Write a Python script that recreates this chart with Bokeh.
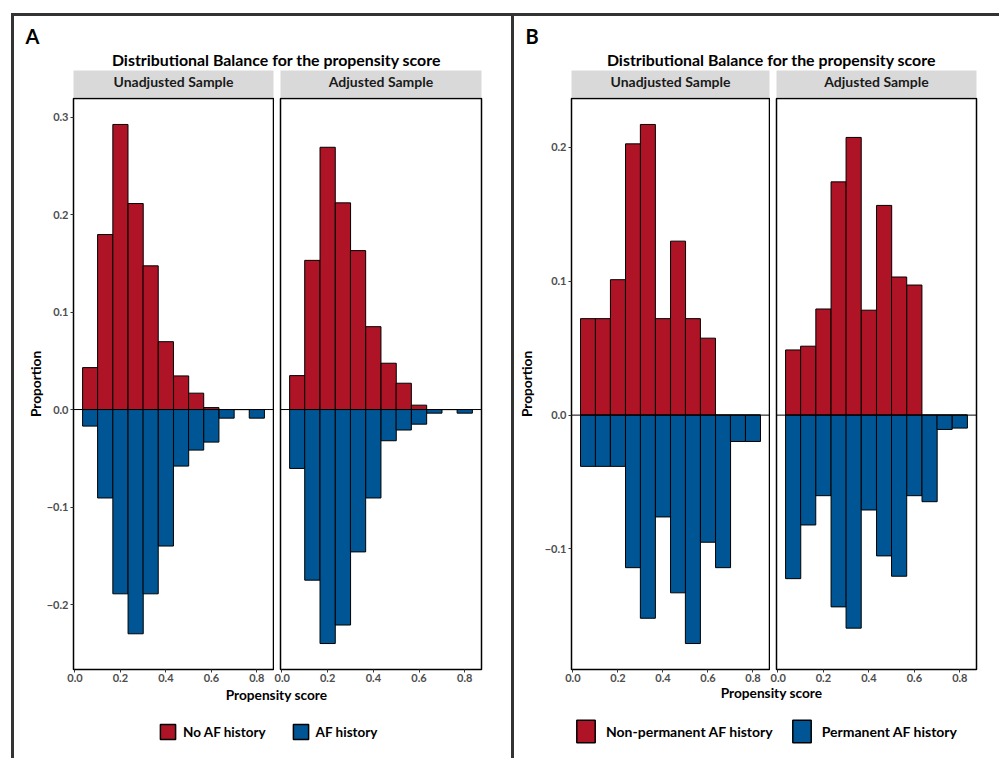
from bokeh.plotting import figure
from bokeh.layouts import row, column
from bokeh.models import Range1d, Span, FixedTicker, Legend, LegendItem, Spacer
from bokeh.core.properties import value
from bokeh.embed import file_html
from bokeh.resources import INLINE

# ---------------- data ----------------
bin_centers = [0.067, 0.133, 0.200, 0.267, 0.333, 0.400, 0.467, 0.533, 0.600, 0.667, 0.733, 0.800]
bin_width = 0.0667

# Panel A : No AF history (up) / AF history (down)
a_unadj_noaf = [0.043, 0.1795, 0.2924, 0.2113, 0.1474, 0.0696, 0.0345, 0.0168, 0.0020, 0.0, 0.0, 0.0]
a_unadj_af = [-0.017, -0.0907, -0.189, -0.230, -0.189, -0.140, -0.058, -0.0416, -0.0334, -0.0088, 0.0, -0.0088]
a_adj_noaf = [0.0348, 0.153, 0.269, 0.212, 0.163, 0.085, 0.0475, 0.027, 0.0045, 0.0, 0.0, 0.0]
a_adj_af = [-0.0604, -0.175, -0.240, -0.221, -0.146, -0.0907, -0.032, -0.021, -0.015, -0.0037, 0.0, -0.0037]

# Panel B : Non-permanent AF history (up) / Permanent AF history (down)
b_unadj_nonperm = [0.0721, 0.0721, 0.1012, 0.2027, 0.2172, 0.0721, 0.130, 0.0721, 0.0575, 0.0, 0.0, 0.0]
b_unadj_perm = [-0.0383, -0.0383, -0.0383, -0.114, -0.1518, -0.0761, -0.1328, -0.1707, -0.095, -0.114, -0.0197, -0.0197]
b_adj_nonperm = [0.0487, 0.0515, 0.0793, 0.1743, 0.2075, 0.0784, 0.1567, 0.1032, 0.0972, 0.0, 0.0, 0.0]
b_adj_perm = [-0.1222, -0.0821, -0.0602, -0.1433, -0.1592, -0.0709, -0.1052, -0.1204, -0.0602, -0.0647, -0.0107, -0.0097]

facet_names = ["Unadjusted Sample", "Adjusted Sample"]
a_legend_labels = ["No AF history", "AF history"]
b_legend_labels = ["Non-permanent AF history", "Permanent AF history"]
main_title = "Distributional Balance for the propensity score"
x_title = "Propensity score"
y_title = "Proportion"

x_ticks = [0.0, 0.2, 0.4, 0.6, 0.8]
x_tick_labels = ["0.0", "0.2", "0.4", "0.6", "0.8"]
a_y_ticks = [-0.2, -0.1, 0.0, 0.1, 0.2, 0.3]
a_y_tick_labels = ["\u22120.2", "\u22120.1", "0.0", "0.1", "0.2", "0.3"]
b_y_ticks = [-0.1, 0.0, 0.1, 0.2]
b_y_tick_labels = ["\u22120.1", "0.0", "0.1", "0.2"]

# ---------------- style ----------------
RED = "#AE1426"
BLUE = "#005694"
FONT = "Lato"
DARK = {"background-color": "#333333"}
STRIP_BG = "#D9D9D9"
FACET_H = 588
FOOT_H = 73


def expand(lo, hi, f=0.05):
    pad = (hi - lo) * f
    return lo - pad, hi + pad


x_lo, x_hi = expand(bin_centers[0] - bin_width / 2, bin_centers[-1] + bin_width / 2)


def base_fig(**kw):
    p = figure(output_backend="svg", toolbar_location=None, **kw)
    p.grid.visible = False
    return p


def facet(width, mbl, mbr, yr, up, down, y_ticks, y_labels, show_y, y_standoff):
    p = base_fig(width=width, height=FACET_H, x_range=Range1d(x_lo, x_hi), y_range=yr,
                 min_border_left=mbl, min_border_right=mbr, min_border_top=1, min_border_bottom=16,
                 y_axis_location="left" if show_y else None)
    p.vbar(x=bin_centers, width=bin_width, bottom=0, top=up, fill_color=RED,
           line_color="black", line_width=1)
    p.vbar(x=bin_centers, width=bin_width, bottom=0, top=down, fill_color=BLUE,
           line_color="black", line_width=1)
    p.add_layout(Span(location=0, dimension="width", line_color="black", line_width=1))
    p.outline_line_color = "black"
    p.outline_line_width = 1.5
    p.background_fill_color = "white"
    p.border_fill_color = "white"
    axes = [p.xaxis[0]] + ([p.yaxis[0]] if show_y else [])
    for ax in axes:
        ax.axis_line_color = None
        ax.major_tick_out = 3
        ax.major_tick_in = 0
        ax.minor_tick_out = 0
        ax.minor_tick_in = 0
        ax.major_tick_line_color = "#333333"
        ax.major_label_text_font = FONT
        ax.major_label_text_font_style = "bold"
        ax.major_label_text_font_size = "11px"
        ax.major_label_text_color = "#4D4D4D"
    p.xaxis.ticker = FixedTicker(ticks=x_ticks)
    p.xaxis.major_label_overrides = dict(zip(x_ticks, x_tick_labels))
    p.xaxis.major_label_standoff = 1
    if show_y:
        p.yaxis.ticker = FixedTicker(ticks=y_ticks)
        p.yaxis.major_label_overrides = dict(zip(y_ticks, y_labels))
        p.yaxis.major_label_standoff = 2
        p.yaxis.axis_label = y_title
        p.yaxis.axis_label_text_font = FONT
        p.yaxis.axis_label_text_font_style = "bold"
        p.yaxis.axis_label_text_font_size = "13.7px"
        p.yaxis.axis_label_text_color = "black"
        p.yaxis.axis_label_standoff = y_standoff
    return p


def strip(width, mbl, mbr, text):
    p = base_fig(width=width, height=27, x_range=Range1d(0, 1), y_range=Range1d(0, 1),
                 min_border_left=mbl, min_border_right=mbr, min_border_top=0, min_border_bottom=0,
                 x_axis_location=None, y_axis_location=None)
    p.background_fill_color = STRIP_BG
    p.border_fill_color = "white"
    p.outline_line_color = None
    p.text(x=[0.5], y=[0.6], text=[text], text_align="center", text_baseline="middle",
           text_font=value(FONT), text_font_style="bold", text_font_size="14px",
           text_color="#1A1A1A")
    return p


def header(width, letter, title_cx):
    h = 54
    p = base_fig(width=width, height=h, x_range=Range1d(0, width), y_range=Range1d(0, h),
                 min_border=0, x_axis_location=None, y_axis_location=None)
    p.outline_line_color = None
    p.text(x=[11], y=[h - 19], text=[letter], text_align="left", text_baseline="middle",
           text_font=value(FONT), text_font_style="bold", text_font_size="20px", text_color="black")
    p.text(x=[title_cx], y=[h - 43], text=[main_title], text_align="center", text_baseline="middle",
           text_font=value(FONT), text_font_style="bold", text_font_size="15.9px", text_color="black")
    return p


def footer(width, xlab_cx, xlab_y, labels, series, loc, gw, gh, standoff, spacing, lab_size):
    h = FOOT_H
    p = base_fig(width=width, height=h, x_range=Range1d(0, width), y_range=Range1d(0, h),
                 min_border=0, x_axis_location=None, y_axis_location=None)
    p.outline_line_color = None
    p.text(x=[xlab_cx], y=[h - xlab_y], text=[x_title], text_align="center", text_baseline="middle",
           text_font=value(FONT), text_font_style="bold", text_font_size="13.7px", text_color="black")
    # hidden renderers carrying the series, used only to draw the legend keys
    r1 = p.vbar(x=bin_centers, width=bin_width, top=series[0], fill_color=RED,
                line_color="black", line_width=1.5, visible=False)
    r2 = p.vbar(x=bin_centers, width=bin_width, top=series[1], fill_color=BLUE,
                line_color="black", line_width=1.5, visible=False)
    leg = Legend(items=[LegendItem(label=labels[0], renderers=[r1]),
                        LegendItem(label=labels[1], renderers=[r2])],
                 orientation="horizontal", location=loc, glyph_width=gw, glyph_height=gh,
                 label_standoff=standoff, spacing=spacing, padding=0, margin=0,
                 border_line_color=None, background_fill_alpha=0, inactive_fill_alpha=0,
                 label_text_font=FONT, label_text_font_style="bold", label_text_font_size=lab_size,
                 label_text_color="black", label_height=gh)
    p.add_layout(leg)
    return p


# y ranges shared across facets (ggplot 5% expansion)
a_all = a_unadj_noaf + a_unadj_af + a_adj_noaf + a_adj_af
b_all = b_unadj_nonperm + b_unadj_perm + b_adj_nonperm + b_adj_perm
a_yr = Range1d(*expand(min(a_all), max(a_all)))
b_yr = Range1d(*expand(min(b_all), max(b_all)))

# ---------- panel A ----------
fa1 = facet(260, 59, 1, a_yr, a_unadj_noaf, a_unadj_af, a_y_ticks, a_y_tick_labels, True, 0)
fa2 = facet(237, 6, 30, a_yr, a_adj_noaf, a_adj_af, a_y_ticks, a_y_tick_labels, False, 0)
sa1 = strip(260, 59, 1, facet_names[0])
sa2 = strip(237, 6, 30, facet_names[1])
ha = header(497, "A", 262)
fta = footer(497, 262, 9, a_legend_labels, (a_unadj_noaf, a_unadj_af), (144, 17), 19, 19, 6, 25, "13.5px")
left = column(ha, row(column(sa1, fa1), column(sa2, fa2)), fta)

# ---------- panel B ----------
fb1 = facet(256, 54, 1, b_yr, b_unadj_nonperm, b_unadj_perm, b_y_ticks, b_y_tick_labels, True, 7)
fb2 = facet(229, 6, 23, b_yr, b_adj_nonperm, b_adj_perm, b_y_ticks, b_y_tick_labels, False, 0)
sb1 = strip(256, 54, 1, facet_names[0])
sb2 = strip(229, 6, 23, facet_names[1])
hb = header(485, "B", 257)
ftb = footer(485, 257, 7, b_legend_labels, (b_unadj_nonperm, b_unadj_perm), (60, 13), 23, 28, 9, 17, "14px")
right = column(hb, row(column(sb1, fb1), column(sb2, fb2)), ftb)

root = column(
    Spacer(width=999, height=13),
    row(Spacer(width=11, height=3), Spacer(width=988, height=3, styles=DARK)),
    row(Spacer(width=11, height=742), Spacer(width=3, height=742, styles=DARK), left,
        Spacer(width=3, height=742, styles=DARK), right),
)

open("out.html", "w").write(file_html(root, INLINE))
